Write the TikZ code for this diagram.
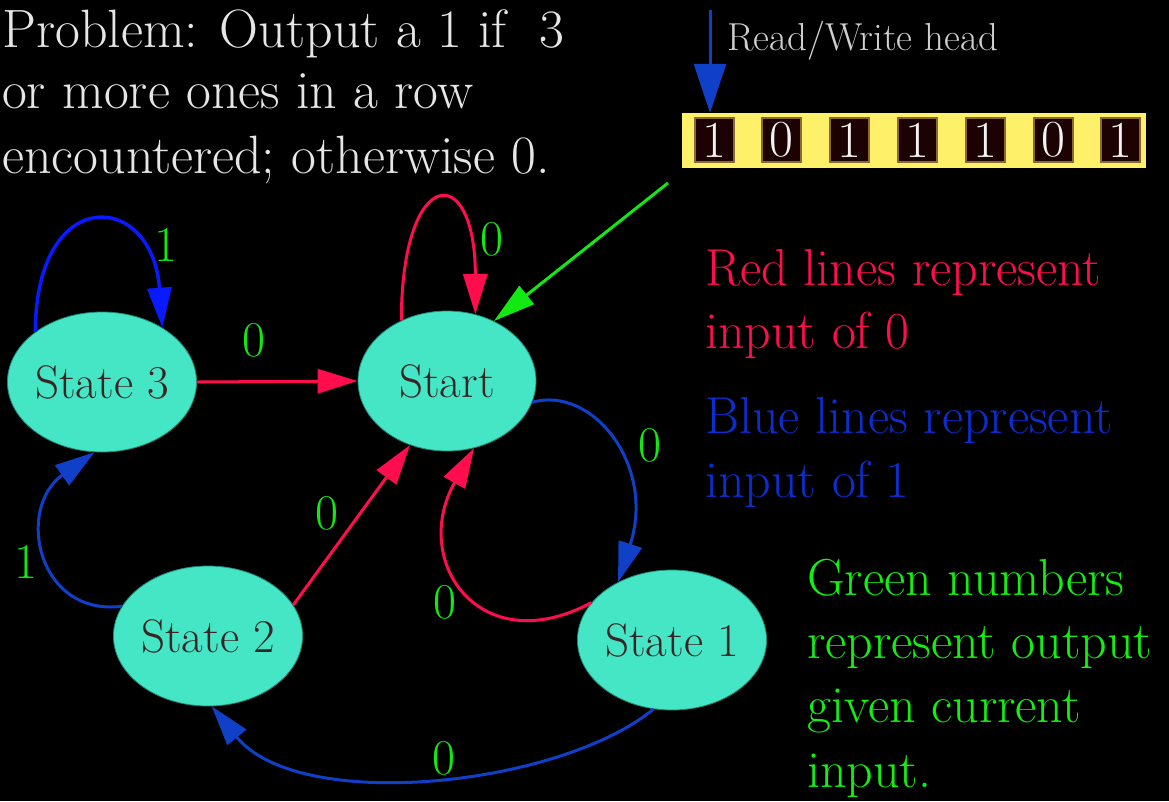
\documentclass[tikz,border=0pt]{standalone}
\usetikzlibrary{shapes.geometric,arrows.meta}

\definecolor{statefill}{HTML}{44E6C6}
\definecolor{stateedge}{HTML}{1E8A78}
\definecolor{statetext}{HTML}{3A2424}
\definecolor{edgered}{HTML}{FF0D4D}
\definecolor{edgeblue}{HTML}{1040C8}
\definecolor{loopblue}{HTML}{0A1AFF}
\definecolor{outgreen}{HTML}{12E812}
\definecolor{titlegray}{HTML}{E6E6E6}
\definecolor{headgray}{HTML}{CFCFCF}
\definecolor{legendred}{HTML}{FF0D4D}
\definecolor{legendblue}{HTML}{0A2ED0}
\definecolor{legendgreen}{HTML}{12F012}
\definecolor{tapeyellow}{HTML}{FFF06A}
\definecolor{cellfill}{HTML}{1C0202}
\definecolor{cellrim}{HTML}{8A6A30}
\definecolor{celltext}{HTML}{F2F2F2}

\tikzset{
  state/.style={ellipse, fill=statefill, draw=stateedge, line width=0.8pt,
    minimum width=178pt, minimum height=140pt, inner sep=0pt,
    text=statetext, font=\fontsize{47}{50}\selectfont},
  redline/.style={draw=edgered, line width=3pt, -{Triangle[length=40pt,width=24pt]}},
  blueline/.style={draw=edgeblue, line width=3pt, -{Triangle[length=40pt,width=24pt]}},
  blueloop/.style={draw=loopblue, line width=3.5pt, -{Triangle[length=40pt,width=24pt]}},
  greenarrow/.style={draw=outgreen, line width=3pt, -{Triangle[length=42pt,width=23pt]}},
  headarrow/.style={draw=edgeblue, line width=3pt, -{Triangle[length=49pt,width=32pt]}},
  outlabel/.style={text=outgreen, font=\fontsize{50}{50}\selectfont, inner sep=0pt},
  txt/.style={anchor=base west, inner sep=0pt, font=\fontsize{52}{60}\selectfont},
  titletxt/.style={txt, text=titlegray, font=\fontsize{54}{60}\selectfont},
  cell/.style={fill=cellfill, draw=cellrim, line width=2pt, minimum width=39pt,
    minimum height=44pt, inner sep=0pt, text=celltext, font=\fontsize{52}{52}\selectfont},
}

\begin{document}
\begin{tikzpicture}[x=1pt,y=-1pt]
  % black canvas
  \fill[black] (0,0) rectangle (1169,801);
  \useasboundingbox (0,0) rectangle (1169,801);

  % problem statement
  \node[titletxt] (t1) at (2,47) {Problem: Output a 1 if~~3};
  \node[titletxt] (t2) at (2,108) {or more ones in a row};
  \node[titletxt] (t3) at (2,173) {encountered; otherwise 0.};

  % tape and head
  \node[fill=tapeyellow, minimum width=464pt, minimum height=55pt, inner sep=0pt] (tape) at (914,140.5) {};
  \foreach \d [count=\i from 0] in {1,0,1,1,1,0,1}
    \node[cell] (c\i) at ({714+67.8*\i},140) {\d};
  \coordinate (headtop) at (710,10);
  \draw[headarrow] (headtop) -- (headtop |- tape.north);
  \node[anchor=base west, inner sep=0pt, text=headgray, font=\fontsize{39}{45}\selectfont] (headlabel) at (727,50) {Read/Write head};

  % states
  \node[state] (S3) at (102,382) {State 3};
  \node[state] (Start) at (447,381) {Start};
  \node[state] (S2) at (208,636) {State 2};
  \node[state] (S1) at (672,640) {State 1};

  % transitions
  \draw[blueloop] (S3.143) .. controls +(0,-148) and +(-10,-138) .. (S3.42);
  \draw[redline] (S3.east) -- (Start.west);
  \draw[redline] (Start.127) .. controls +(0,-155) and +(0,-155) .. (Start.67);
  \draw[blueline] (Start.-14) .. controls +(60,-17) and +(38,-117) .. (S1.133);
  \draw[redline] (S1.155) .. controls +(-112,60) and +(-64,113) .. (Start.-68);
  \draw[redline] (S2.20) -- (Start.-120);
  \draw[blueline] (S2.161) .. controls +(-85,10) and +(-79,56) .. (S3.-96);
  \draw[blueline] (S1.-105) .. controls +(-93,77) and +(88,108) .. (S2.-87);

  % tape feed into the start state
  \coordinate (feed) at (668,183);
  \draw[greenarrow] (feed) -- (Start.52);

  % outputs
  \node[outlabel] (o1) at (166,245) {1};
  \node[outlabel] (o2) at (254,340) {0};
  \node[outlabel] (o3) at (492,239) {0};
  \node[outlabel] (o4) at (650,445) {0};
  \node[outlabel] (o5) at (445,602) {0};
  \node[outlabel] (o6) at (327,513) {0};
  \node[outlabel] (o7) at (26,562) {1};
  \node[outlabel] (o8) at (444,758) {0};

  % legend
  \node[txt, text=legendred] (l1) at (705,285) {Red lines represent};
  \node[txt, text=legendred] (l2) at (705,348) {input of 0};
  \node[txt, text=legendblue] (l3) at (705,433) {Blue lines represent};
  \node[txt, text=legendblue] (l4) at (705,497) {input of 1};
  \node[txt, text=legendgreen] (l5) at (807,595) {Green numbers};
  \node[txt, text=legendgreen] (l6) at (807,658) {represent output};
  \node[txt, text=legendgreen] (l7) at (807,722) {given current};
  \node[txt, text=legendgreen] (l8) at (807,787) {input.};
\end{tikzpicture}
\end{document}
